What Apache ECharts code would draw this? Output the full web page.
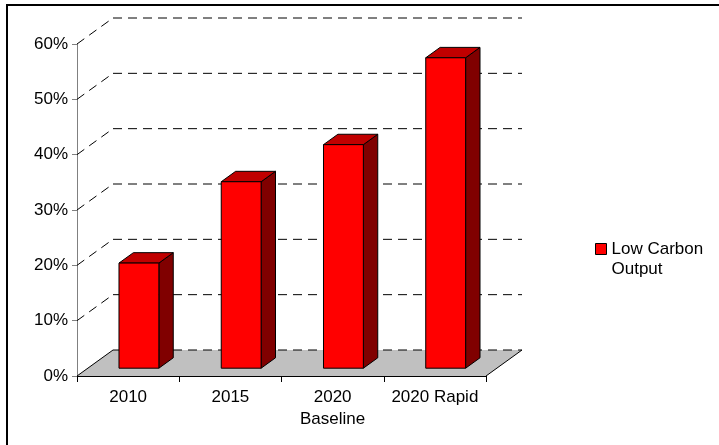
<!DOCTYPE html>
<html>
<head>
<meta charset="utf-8">
<script src="https://cdn.jsdelivr.net/npm/echarts@6/dist/echarts.min.js"></script>
<style>
  html, body { margin: 0; padding: 0; background: #fff; }
  #chart { width: 719px; height: 445px; }
</style>
</head>
<body>
<div id="chart"></div>
<script>
// Share of low carbon output by scenario
const categories = ['2010', '2015', '2020\nBaseline', '2020 Rapid'];
const lowCarbonOutput = [0.19, 0.337, 0.404, 0.561];
const yTicks = [0, 0.1, 0.2, 0.3, 0.4, 0.5, 0.6];
const seriesName = 'Low Carbon Output';

// Pseudo-3D depth offsets (pixels) for the floor / back wall
const DX = 36, DY = -26;
// Bar occupies the middle of the depth: front face at 30%, 40% deep
const FRONT = 0.3, DEPTH = 0.4;
const BAR_RATIO = 0.39;

const FONT = 'Liberation Sans, Arial, sans-serif';

const chart = echarts.init(document.getElementById('chart'), null, { renderer: 'canvas' });

function renderWall(params, api) {
  const cs = params.coordSys;
  const v = api.value(0);
  const y = api.coord([0, v])[1];
  const xl = cs.x, xr = cs.x + cs.width;
  const dash = { stroke: '#000', lineWidth: 1, lineDash: [9, 6] };
  const children = [];
  if (v === 0) {
    children.push({
      type: 'polygon',
      shape: { points: [[xl, y], [xr, y], [xr + DX, y + DY], [xl + DX, y + DY]] },
      style: { fill: '#c0c0c0', stroke: null }
    });
    children.push({
      type: 'line',
      shape: { x1: xl, y1: y, x2: xl + DX, y2: y + DY },
      style: { stroke: '#000', lineWidth: 1 }
    });
    children.push({
      type: 'line',
      shape: { x1: xr, y1: y, x2: xr + DX, y2: y + DY },
      style: { stroke: '#000', lineWidth: 1 }
    });
  } else {
    children.push({
      type: 'line',
      shape: { x1: xl, y1: y, x2: xl + DX, y2: y + DY },
      style: dash
    });
  }
  children.push({
    type: 'line',
    shape: { x1: xl + DX, y1: y + DY, x2: xr + DX, y2: y + DY },
    style: dash
  });
  return { type: 'group', children: children };
}

function renderBar(params, api) {
  const i = api.value(0);
  const v = api.value(1);
  const base = api.coord([i, 0]);
  const top = api.coord([i, v]);
  const band = api.size([1, 0])[0];
  const bw = band * BAR_RATIO;
  const x0 = base[0] + FRONT * DX - bw / 2;
  const x1 = x0 + bw;
  const yb = base[1] + FRONT * DY;
  const yt = top[1] + FRONT * DY;
  const sdx = DEPTH * DX, sdy = DEPTH * DY;
  const edge = { stroke: '#000', lineWidth: 1, lineJoin: 'round' };
  return {
    type: 'group',
    children: [
      {
        type: 'polygon',
        shape: { points: [[x1, yt], [x1 + sdx, yt + sdy], [x1 + sdx, yb + sdy], [x1, yb]] },
        style: Object.assign({ fill: '#800000' }, edge)
      },
      {
        type: 'polygon',
        shape: { points: [[x0, yt], [x1, yt], [x1 + sdx, yt + sdy], [x0 + sdx, yt + sdy]] },
        style: Object.assign({ fill: '#c00000' }, edge)
      },
      {
        type: 'rect',
        shape: { x: x0, y: yt, width: bw, height: yb - yt },
        style: Object.assign({ fill: '#ff0000' }, edge)
      }
    ]
  };
}

chart.setOption({
  animation: false,
  backgroundColor: '#fff',
  grid: { left: 77, top: 44, width: 409, height: 332, outerBoundsMode: 'none' },
  graphic: [{
    type: 'rect',
    shape: { x: 7, y: 5, width: 800, height: 500 },
    style: { fill: null, stroke: '#000', lineWidth: 2 },
    z: 100
  }],
  legend: {
    left: 595,
    top: 219,
    padding: 0,
    itemWidth: 11,
    itemHeight: 11,
    data: [{
      name: seriesName,
      icon: 'rect',
      itemStyle: { color: '#ff0000', borderColor: '#000', borderWidth: 1 }
    }],
    // leading blank line keeps the first text line level with the swatch
    formatter: function () { return '\nLow Carbon\nOutput'; },
    textStyle: {
      fontFamily: FONT, fontSize: 17, color: '#000', lineHeight: 20
    }
  },
  xAxis: {
    type: 'category',
    data: categories,
    boundaryGap: true,
    axisLine: { onZero: false, lineStyle: { color: '#000', width: 1 } },
    axisTick: { show: true, length: 6, lineStyle: { color: '#000' } },
    axisLabel: {
      margin: 10, fontFamily: FONT, fontSize: 17, color: '#000',
      lineHeight: 22, interval: 0
    },
    splitLine: { show: false }
  },
  yAxis: {
    type: 'value',
    min: 0,
    max: 0.6,
    interval: 0.1,
    axisLine: { show: true, lineStyle: { color: '#808080', width: 1 } },
    axisTick: { show: true, length: 5, lineStyle: { color: '#808080' } },
    axisLabel: {
      margin: 9, fontFamily: FONT, fontSize: 17, color: '#000',
      formatter: function (v) { return Math.round(v * 100) + '%'; }
    },
    splitLine: { show: false }
  },
  series: [
    {
      type: 'custom',
      name: 'wall',
      silent: true,
      renderItem: renderWall,
      data: yTicks.map(function (t) { return [t]; }),
      encode: { y: 0 },
      z: 1
    },
    {
      type: 'custom',
      name: seriesName,
      itemStyle: { color: '#ff0000' },
      renderItem: renderBar,
      data: lowCarbonOutput.map(function (v, i) { return [i, v]; }),
      encode: { x: 0, y: 1 },
      z: 5
    }
  ]
});
</script>
</body>
</html>
